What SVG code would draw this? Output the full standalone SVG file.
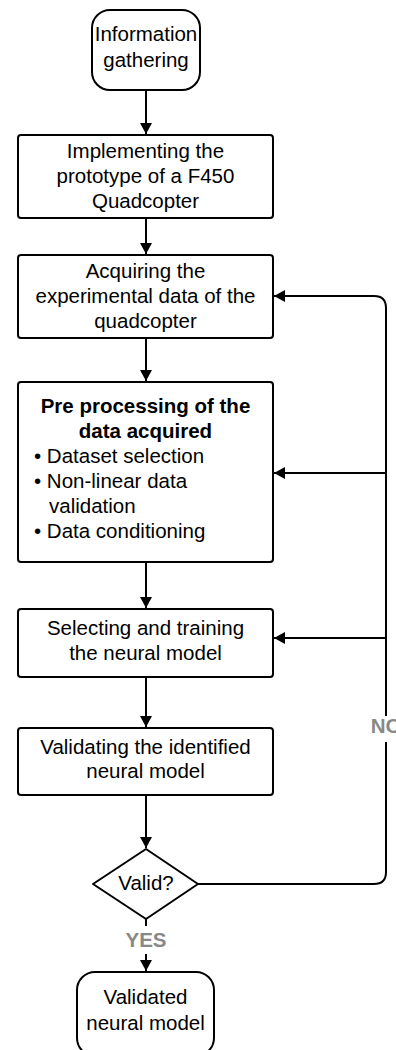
<svg xmlns="http://www.w3.org/2000/svg" width="396" height="1050" viewBox="0 0 396 1050">
<style>
.n{fill:#fff;stroke:#000;stroke-width:2}
.t{font-family:"Liberation Sans",Arial,sans-serif;font-size:20.5px;fill:#000;text-anchor:middle}
.b{font-weight:bold}
.l{font-family:"Liberation Sans",Arial,sans-serif;font-size:20.5px;font-weight:bold;fill:#888;text-anchor:middle}
.c{fill:none;stroke:#000;stroke-width:2}
</style>
<defs>
<marker id="ah" markerUnits="userSpaceOnUse" markerWidth="14" markerHeight="14" viewBox="0 0 14 14" refX="12" refY="7" orient="auto">
<path d="M1,1 L12,7 L1,13 Z" fill="#000"/>
</marker>
</defs>
<g id="connectors">
<path class="c" d="M146,90 V134" marker-end="url(#ah)"/>
<path class="c" d="M146,218 V254" marker-end="url(#ah)"/>
<path class="c" d="M146,338 V381" marker-end="url(#ah)"/>
<path class="c" d="M146,562 V608" marker-end="url(#ah)"/>
<path class="c" d="M146,677 V727" marker-end="url(#ah)"/>
<path class="c" d="M146,795 V848" marker-end="url(#ah)"/>
<path class="c" d="M146,919 V926"/>
<path class="c" d="M146,954 V971" marker-end="url(#ah)"/>
<path class="c" d="M198,884 H374 Q386,884 386,872 V742"/>
<path class="c" d="M386,716 V308 Q386,296 374,296 H274" marker-end="url(#ah)"/>
<path class="c" d="M386,473 H274" marker-end="url(#ah)"/>
<path class="c" d="M386,638 H274" marker-end="url(#ah)"/>
<text class="l" x="386" y="733">NO</text>
<text class="l" x="146" y="947">YES</text>
</g>
<g id="start">
<rect class="n" x="92" y="10" width="108" height="80" rx="18"/>
<text class="t" x="146" y="41">Information</text>
<text class="t" x="146" y="67">gathering</text>
</g>
<g id="implement">
<rect class="n" x="18" y="135" width="255" height="83" rx="3"/>
<text class="t" x="145.5" y="158">Implementing the</text>
<text class="t" x="145.5" y="183">prototype of a F450</text>
<text class="t" x="145.5" y="208">Quadcopter</text>
</g>
<g id="acquire">
<rect class="n" x="18" y="255" width="255" height="83" rx="3"/>
<text class="t" x="145.5" y="278">Acquiring the</text>
<text class="t" x="145.5" y="303">experimental data of the</text>
<text class="t" x="145.5" y="328">quadcopter</text>
</g>
<g id="preprocess">
<rect class="n" x="18" y="382" width="255" height="180" rx="3"/>
<text class="t b" x="145.5" y="413">Pre processing of the</text>
<text class="t b" x="145.5" y="438">data acquired</text>
<text class="t" x="34" y="463" style="text-anchor:start">• Dataset selection</text>
<text class="t" x="34" y="488" style="text-anchor:start">• Non-linear data</text>
<text class="t" x="49" y="513" style="text-anchor:start">validation</text>
<text class="t" x="34" y="538" style="text-anchor:start">• Data conditioning</text>
</g>
<g id="train">
<rect class="n" x="18" y="609" width="255" height="68" rx="3"/>
<text class="t" x="145.5" y="635">Selecting and training</text>
<text class="t" x="145.5" y="660">the neural model</text>
</g>
<g id="validate">
<rect class="n" x="18" y="728" width="255" height="67" rx="3"/>
<text class="t" x="145.5" y="754">Validating the identified</text>
<text class="t" x="145.5" y="778">neural model</text>
</g>
<g id="decision">
<path class="n" d="M146,849 L198,884 L146,919 L93,884 Z" stroke-linejoin="round"/>
<text class="t" x="146" y="890">Valid?</text>
</g>
<g id="end">
<rect class="n" x="77" y="972" width="137" height="84" rx="18"/>
<text class="t" x="145.5" y="1004">Validated</text>
<text class="t" x="145.5" y="1030">neural model</text>
</g>
</svg>
